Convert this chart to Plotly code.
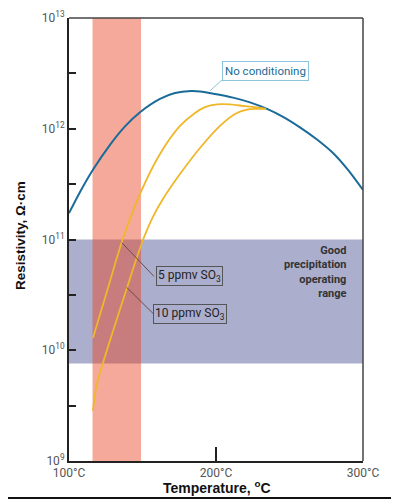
import plotly.graph_objects as go

# ---------------- data ----------------
temp_noconditioning = [100, 107.5, 116.5, 127.9, 138.1, 148.3, 161.9, 172.1, 183.0, 189.1,
                       199.3, 211.6, 223.1, 234.7, 245.6, 257.1, 268.7, 279.6, 289.8, 300]
res_noconditioning = [1.73e11, 2.69e11, 4.31e11, 7.16e11, 1.05e12, 1.41e12, 1.86e12, 2.10e12,
                      2.19e12, 2.17e12, 2.06e12, 1.91e12, 1.73e12, 1.51e12, 1.28e12, 1.03e12,
                      8.00e11, 6.04e11, 4.25e11, 2.80e11]

temp_5ppmv = [116.3, 126.5, 136.7, 148.3, 161.9, 175.5, 185.7, 192.5, 200.7, 209.5,
              219.7, 227.9, 234.0]
res_5ppmv = [1.29e10, 3.65e10, 1.02e11, 2.58e11, 5.92e11, 1.06e12, 1.39e12, 1.57e12,
             1.66e12, 1.66e12, 1.60e12, 1.56e12, 1.51e12]

temp_10ppmv = [116.3, 118.8, 123.1, 129.3, 139.5, 144.9, 150.3, 157.1, 163.9, 175.5,
               189.1, 202.7, 212.9, 221.1, 227.9, 234.0]
res_10ppmv = [2.83e9, 4.85e9, 7.67e9, 1.40e10, 3.69e10, 6.14e10, 9.89e10, 1.60e11, 2.32e11,
              3.90e11, 6.70e11, 1.06e12, 1.36e12, 1.49e12, 1.51e12, 1.51e12]

red_band_temp = [116, 149]
good_range_res = [7.6e9, 1.0e11]

y_tickvals = [1e9, 3.162e9, 1e10, 3.162e10, 1e11, 3.162e11, 1e12, 3.162e12, 1e13]
y_ticktext = ["10<sup>9</sup>", "", "10<sup>10</sup>", "", "10<sup>11</sup>", "",
              "10<sup>12</sup>", "", "10<sup>13</sup>"]
x_tickvals = [100, 200, 300]
x_ticktext = ["100°C", "200°C", "300°C"]

BLUE = "#1a6b97"
YELLOW = "#efb72a"

fig = go.Figure()
fig.add_trace(go.Scatter(x=temp_noconditioning, y=res_noconditioning, mode="lines",
                         line=dict(color=BLUE, width=2, shape="spline", smoothing=0.8),
                         hoverinfo="skip"))
fig.add_trace(go.Scatter(x=temp_5ppmv, y=res_5ppmv, mode="lines",
                         line=dict(color=YELLOW, width=1.8, shape="spline", smoothing=0.8),
                         hoverinfo="skip"))
fig.add_trace(go.Scatter(x=temp_10ppmv, y=res_10ppmv, mode="lines",
                         line=dict(color=YELLOW, width=1.8, shape="spline", smoothing=0.8),
                         hoverinfo="skip"))

shapes = [
    dict(type="rect", xref="paper", yref="y", x0=0, x1=1,
         y0=good_range_res[0], y1=good_range_res[1],
         fillcolor="rgb(172,174,205)", line=dict(width=0), layer="below"),
    dict(type="rect", xref="x", yref="paper", x0=red_band_temp[0], x1=red_band_temp[1],
         y0=0, y1=1, fillcolor="rgba(232,64,32,0.45)", line=dict(width=0), layer="below"),
    dict(type="line", xref="paper", yref="paper", x0=0, x1=1, y0=1, y1=1,
         line=dict(color="#444", width=1.5)),
    dict(type="line", xref="paper", yref="paper", x0=1, x1=1, y0=0, y1=1,
         line=dict(color="#444", width=1.5)),
    dict(type="line", xref="x", yref="y", x0=136, y0=10**10.97, x1=157.8, y1=10**10.667,
         line=dict(color="#6b4a4a", width=1)),
    dict(type="line", xref="x", yref="y", x0=139.2, y0=10**10.568, x1=157.8, y1=10**10.324,
         line=dict(color="#6b4a4a", width=1)),
    dict(type="line", xref="x", yref="y", x0=195.9, y0=10**12.342, x1=204.8, y1=10**12.45,
         line=dict(color="#8cc4de", width=1)),
    dict(type="line", xref="paper", yref="paper", x0=-61/294, x1=330/294,
         y0=-37/443, y1=-37/443, line=dict(color="#111", width=2)),
]

annotations = [
    dict(x=234, y=12.518, xref="x", yref="y", text="No conditioning", showarrow=False,
         font=dict(family="Roboto", size=11.5, color=BLUE), bordercolor="#8cc4de",
         borderwidth=1, borderpad=2, bgcolor="white"),
    dict(x=182.3, y=10.671, xref="x", yref="y", text="5 ppmv SO<sub>3</sub>", showarrow=False,
         font=dict(family="Roboto", size=12, color="#222"), bordercolor="#555",
         borderwidth=1, borderpad=1),
    dict(x=182.3, y=10.324, xref="x", yref="y", text="10 ppmv SO<sub>3</sub>", showarrow=False,
         font=dict(family="Roboto", size=12, color="#222"), bordercolor="#555",
         borderwidth=1, borderpad=1),
    dict(x=289.8, y=10.703, xref="x", yref="y", xanchor="right", yanchor="middle",
         align="right",
         text="<b>Good<br>precipitation<br>operating<br>range</b>", showarrow=False,
         font=dict(family="Roboto", size=11, color="#333")),
    dict(x=-49/294, y=225/443, xref="paper", yref="paper", textangle=-90,
         xanchor="center", yanchor="middle",
         text="<b>Resistivity, Ω·cm</b>", showarrow=False,
         font=dict(family="Liberation Sans", size=13.5, color="#111")),
    dict(x=148/294, y=-26/443, xref="paper", yref="paper",
         xanchor="center", yanchor="middle",
         text="<b>Temperature, <sup>o</sup>C</b>", showarrow=False,
         font=dict(family="Liberation Sans", size=14, color="#111")),
]

fig.update_layout(
    width=391, height=492,
    margin=dict(l=61, r=36, t=10, b=39, autoexpand=False),
    paper_bgcolor="white", plot_bgcolor="white",
    showlegend=False,
    shapes=shapes, annotations=annotations,
    xaxis=dict(range=[100, 300], tickvals=x_tickvals, ticktext=x_ticktext, automargin=False,
               ticks="inside", ticklen=14, tickwidth=1.5, tickcolor="#222",
               showgrid=False, zeroline=False, showline=True, linecolor="#222", linewidth=2,
               tickfont=dict(family="Roboto", size=12, color="#555")),
    yaxis=dict(type="log", range=[9, 13], tickvals=y_tickvals, ticktext=y_ticktext,
               automargin=False,
               ticks="inside", ticklen=7, tickwidth=1.5, tickcolor="#222",
               showgrid=False, zeroline=False, showline=True, linecolor="#222", linewidth=2,
               tickfont=dict(family="Roboto", size=12, color="#555")),
)

fig.write_html("out.html")
